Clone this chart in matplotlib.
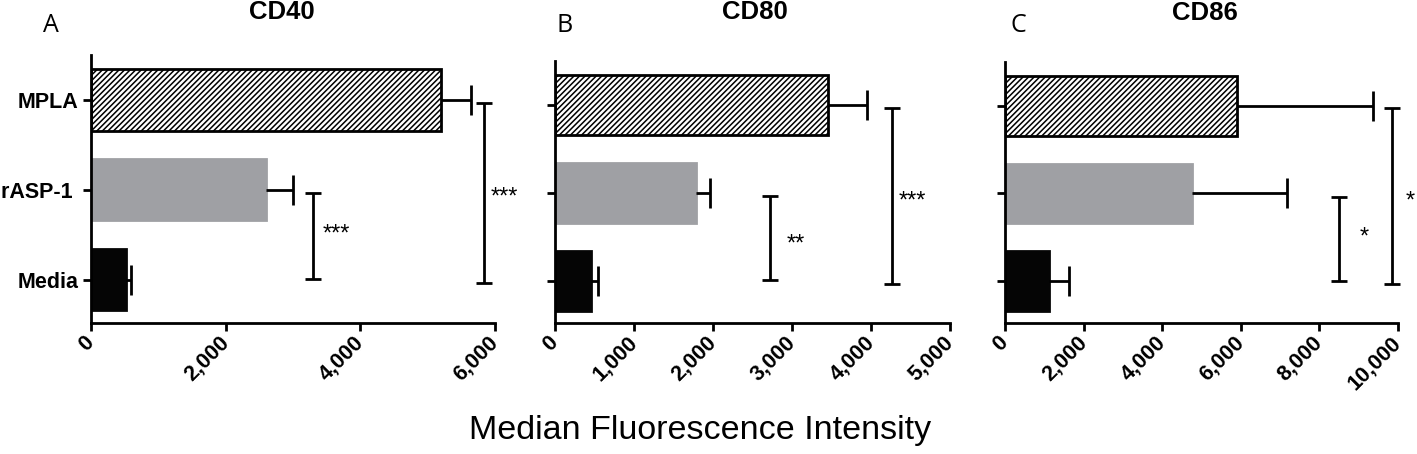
import numpy as np
import matplotlib
matplotlib.use('Agg')
import matplotlib.pyplot as plt

plt.rcParams.update({
    'font.family': ['Liberation Sans', 'DejaVu Sans'],
    'hatch.linewidth': 1.1,
    'axes.spines.top': False,
    'axes.spines.right': False,
})

# data ---------------------------------------------------------------
groups = ['Media', 'rASP-1 ', 'MPLA']          # bottom -> top
titles = ['CD40', 'CD80', 'CD86']
letters = ['A', 'B', 'C']

cd40_mean = [520, 2600, 5200]
cd40_err = [70, 400, 450]
cd80_mean = [460, 1780, 3450]
cd80_err = [80, 180, 500]
cd86_mean = [1130, 4770, 5900]
cd86_err = [490, 2410, 3460]

xmax = [6000, 5000, 10000]
xticks = [np.arange(0, 6001, 2000), np.arange(0, 5001, 1000), np.arange(0, 10001, 2000)]

# significance brackets: (x, y_low, y_high, label, label_x, label_y)
cd40_sig = [(3300, 0.01, 0.97, '***', 3650, 0.50), (5830, -0.04, 1.97, '***', 6140, 0.91)]
cd80_sig = [(2720, 0.01, 0.97, '**', 3050, 0.41), (4260, -0.04, 1.97, '***', 4520, 0.90)]
cd86_sig = [(8500, 0.00, 0.96, '*', 9130, 0.50), (9860, -0.04, 1.97, '*', 10310, 0.91)]

means = [cd40_mean, cd80_mean, cd86_mean]
errs = [cd40_err, cd80_err, cd86_err]
sigs = [cd40_sig, cd80_sig, cd86_sig]

# styling
bar_face = ['#050505', '#9fa0a4', 'white']
bar_edge = ['#050505', '#9fa0a4', 'black']
bar_hatch = [None, None, '//////']

W, H = 1417, 454
ax_px = [(91, 495, 55, 323), (555, 950, 61, 323), (1005, 1398, 62, 323)]
title_px = [(282, 12), (755, 12), (1205, 13)]
letter_px = [(51, 26), (565, 25), (1018, 26)]

fig = plt.figure(figsize=(W / 100, H / 100), dpi=100)

for i in range(3):
    l, r, t, b = ax_px[i]
    ax = fig.add_axes([l / W, 1 - b / H, (r - l) / W, (b - t) / H])
    y = np.arange(len(groups))
    for j in range(len(groups)):
        ax.barh(y[j], means[i][j], height=0.68, color=bar_face[j],
                edgecolor=bar_edge[j], linewidth=2, hatch=bar_hatch[j], zorder=2)
    lows = np.zeros(len(groups))
    _, caps, _ = ax.errorbar(means[i], y, xerr=[lows, errs[i]], fmt='none',
                             ecolor='black', elinewidth=2, capsize=10.5,
                             capthick=2, zorder=3)
    for c in caps:
        if np.allclose(c.get_xdata(), means[i]):
            c.set_visible(False)

    for (sx, y0, y1, lab, lx, ly) in sigs[i]:
        ax.errorbar([sx], [(y0 + y1) / 2], yerr=[(y1 - y0) / 2], fmt='none',
                    ecolor='black', elinewidth=2, capsize=6, capthick=2,
                    clip_on=False)
        ax.text(lx, ly, lab, ha='center', va='center', fontsize=17,
                clip_on=False)

    ax.set_xlim(0, xmax[i])
    ax.set_ylim(-0.48, 2.5)
    ax.set_xticks(xticks[i])
    ax.set_xticklabels([f'{v:,}' for v in xticks[i]], rotation=45,
                       ha='right', va='center', rotation_mode='anchor',
                       fontsize=15.5, fontweight='bold')
    ax.set_yticks(y)
    if i == 0:
        ax.set_yticklabels(groups, fontsize=15.5, fontweight='bold')
    else:
        ax.set_yticklabels([])
    for s in ['left', 'bottom']:
        ax.spines[s].set_linewidth(2)
    ax.tick_params(axis='both', width=2, length=6, pad=3)
    ax.tick_params(axis='x', pad=6)

    fig.text(title_px[i][0] / W, 1 - title_px[i][1] / H, titles[i],
             ha='center', va='center', fontsize=18.5, fontweight='bold')
    fig.text(letter_px[i][0] / W, 1 - letter_px[i][1] / H, letters[i],
             ha='center', va='center', fontsize=18,
             family=['Open Sans', 'DejaVu Sans'])

fig.text(700 / W, 1 - 431 / H, 'Median Fluorescence Intensity',
         ha='center', va='center', fontsize=24.5)

fig.savefig('out.png', dpi=100, facecolor='white')
